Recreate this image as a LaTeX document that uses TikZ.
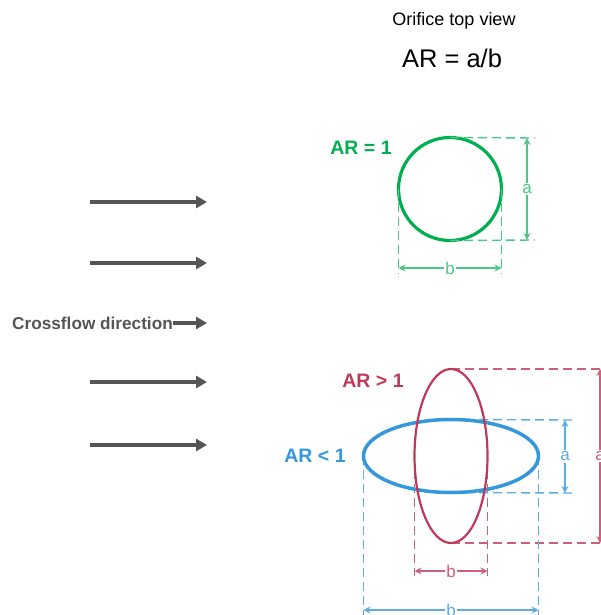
\documentclass[tikz,border=0pt]{standalone}
\usepackage{fontspec}
\setmainfont{Liberation Sans}
\usetikzlibrary{arrows.meta,shapes.geometric}
\definecolor{gcol}{RGB}{0,176,80}
\definecolor{rcol}{RGB}{192,57,90}
\definecolor{bcol}{RGB}{52,152,219}
\definecolor{flow}{RGB}{85,85,85}
\colorlet{gdim}{gcol!70!white}
\colorlet{rdim}{rcol!80!white}
\colorlet{bdim}{bcol!80!white}
\begin{document}
\begin{tikzpicture}[x=1pt,y=-1pt,
  flowarrow/.style={draw=flow,line width=4.5pt,-{Triangle[length=11pt,width=12pt]}},
  ext/.style={dash pattern=on 9pt off 5pt, line width=1.4pt},
  dimline/.style={line width=1.2pt,{Stealth[length=7pt,width=7pt]}-{Stealth[length=7pt,width=7pt]}},
  dimlabel/.style={fill=white,inner sep=1.5pt,font=\fontsize{17}{17}\selectfont},
  arlabel/.style={font=\bfseries\fontsize{19.5}{19.5}\selectfont}]
\useasboundingbox (0,0) rectangle (601,615);
\clip (0,0) rectangle (601,615);

% titles
\node (title) at (454,21) {\fontsize{18}{18}\selectfont Orifice top view};
\node (ratio) at (452,58) {\fontsize{25.5}{25.5}\selectfont AR = a/b};

% flow arrows
\foreach \n/\yy in {1/202,2/263,4/382,5/445}{
  \coordinate (s\n) at (90,\yy);
  \coordinate (e\n) at (207,\yy);
  \draw[flowarrow] (s\n) -- (e\n);
}
\node[anchor=east,text=flow,inner sep=0,font=\bfseries\fontsize{17.2}{17.2}\selectfont] (cf) at (173,323) {Crossflow direction};
\coordinate (e3) at (207,323);
\draw[flowarrow] (cf.east) -- (e3);

% ---------- AR = 1 (green) ----------
\node[circle,draw=gcol,line width=3.2pt,minimum size=103pt,inner sep=0,outer sep=0] (circ) at (450,189) {};
\coordinate (gtr) at (535,138);
\coordinate (gbr) at (535,240);
\draw[ext,gdim] (circ.north) -- (gtr);
\draw[ext,gdim] (circ.south) -- (gbr);
\coordinate (gat) at (527,138);
\coordinate (gab) at (527,240);
\draw[dimline,gdim] (gat) -- node[dimlabel,text=gdim] (gla) {a} (gab);
\coordinate (gl) at (398.5,274);
\coordinate (gr) at (501.5,274);
\draw[ext,gdim] (circ.west) -- (gl);
\draw[ext,gdim] (circ.east) -- (gr);
\coordinate (gbl) at (398.5,268);
\coordinate (gbr2) at (501.5,268);
\draw[dimline,gdim] (gbl) -- node[dimlabel,text=gdim] (glb) {b} (gbr2);
\node[arlabel,text=gcol] (ar1) at (361,148) {AR = 1};

% ---------- AR < 1 (blue) extension lines ----------
\coordinate (btr) at (572,420);
\coordinate (bbr) at (572,493);
\coordinate (bat) at (565,420);
\coordinate (bab) at (565,493);
\coordinate (bl) at (363.5,620);
\coordinate (br) at (538.5,620);
\coordinate (bbl) at (363.5,610);
\coordinate (bbr2) at (538.5,610);
% ---------- AR > 1 (red) extension lines ----------
\coordinate (rtr) at (610,369);
\coordinate (rbr) at (610,543);
\coordinate (rat) at (600,369);
\coordinate (rab) at (600,543);
\coordinate (rl) at (414.5,576);
\coordinate (rr) at (487.5,576);
\coordinate (rbl) at (414.5,571);
\coordinate (rbr2) at (487.5,571);

\node[ellipse,minimum width=175pt,minimum height=73pt,inner sep=0,outer sep=0] (bell) at (451,456) {};
\node[ellipse,minimum width=73pt,minimum height=174pt,inner sep=0,outer sep=0] (rell) at (451,456) {};

\draw[ext,rdim] (rell.north) -- (rtr);
\draw[ext,rdim] (rell.south) -- (rbr);
\draw[dimline,rdim] (rat) -- node[dimlabel,text=rdim] (rla) {a} (rab);
\draw[ext,rdim] (rell.west) -- (rl);
\draw[ext,rdim] (rell.east) -- (rr);
\draw[dimline,rdim] (rbl) -- node[dimlabel,text=rdim] (rlb) {b} (rbr2);

\draw[ext,bdim] (bell.north) -- (btr);
\draw[ext,bdim] (bell.south) -- (bbr);
\draw[dimline,bdim] (bat) -- node[dimlabel,text=bdim] (bla) {a} (bab);
\draw[ext,bdim] (bell.west) -- (bl);
\draw[ext,bdim] (bell.east) -- (br);
\draw[dimline,bdim] (bbl) -- node[dimlabel,text=bdim] (blb) {b} (bbr2);

\draw[bcol,line width=3.5pt] (bell.center) ellipse [x radius=87.5pt, y radius=36.5pt];
\draw[rcol,line width=2.2pt] (rell.center) ellipse [x radius=36.5pt, y radius=87pt];

\node[arlabel,text=rcol] (argt) at (373,381) {AR > 1};
\node[arlabel,text=bcol] (arlt) at (315,456) {AR < 1};
\end{tikzpicture}
\end{document}
